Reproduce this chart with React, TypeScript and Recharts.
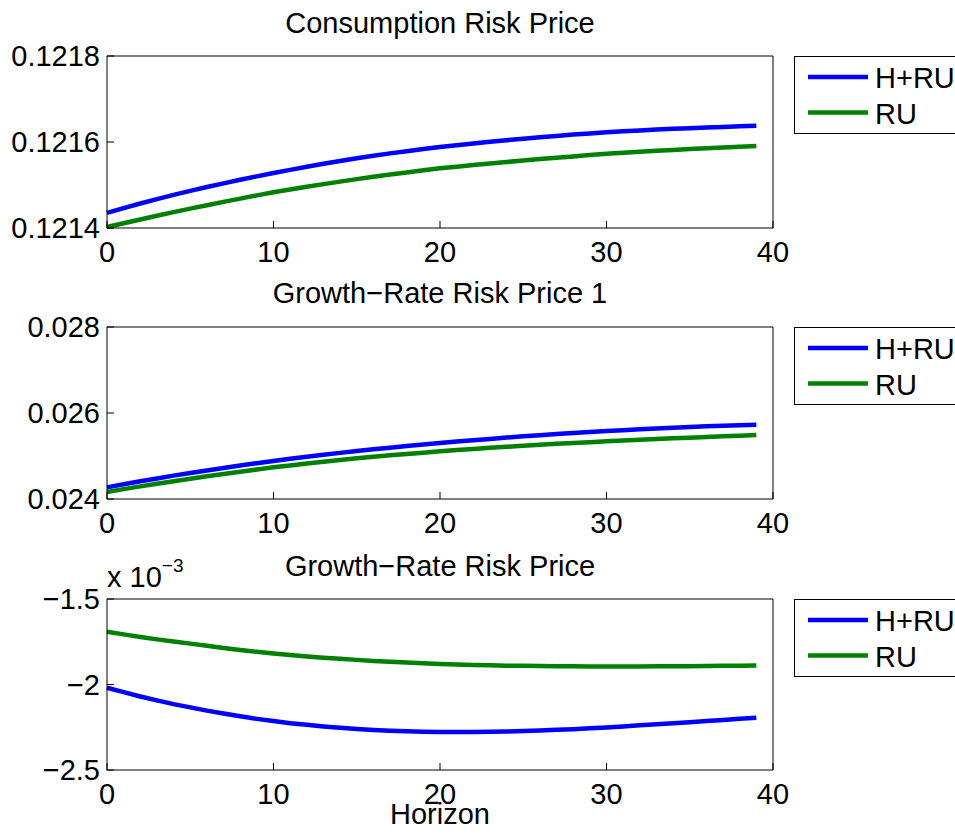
import React from 'react';
import { LineChart, Line, XAxis, YAxis } from 'recharts';

const horizons = [0,1,2,3,4,5,6,7,8,9,10,11,12,13,14,15,16,17,18,19,20,21,22,23,24,25,26,27,28,29,30,31,32,33,34,35,36,37,38,39];
const xTicks = [0, 10, 20, 30, 40];

const consHRU = [0.1214353,0.1214463,0.1214569,0.1214671,0.1214769,0.1214863,0.1214953,0.1215039,0.1215121,0.1215201,0.1215278,0.1215352,0.1215424,0.1215493,0.1215560,0.1215624,0.1215681,0.1215735,0.1215786,0.1215835,0.1215882,0.1215925,0.1215966,0.1216005,0.1216042,0.1216078,0.1216111,0.1216142,0.1216172,0.1216200,0.1216227,0.1216249,0.1216269,0.1216288,0.1216306,0.1216322,0.1216337,0.1216351,0.1216364,0.1216376];
const consRU = [0.1214024,0.1214112,0.1214199,0.1214284,0.1214368,0.1214450,0.1214530,0.1214608,0.1214684,0.1214758,0.1214830,0.1214896,0.1214959,0.1215020,0.1215079,0.1215137,0.1215191,0.1215243,0.1215293,0.1215341,0.1215388,0.1215427,0.1215464,0.1215500,0.1215535,0.1215569,0.1215602,0.1215634,0.1215665,0.1215695,0.1215725,0.1215749,0.1215772,0.1215794,0.1215815,0.1215835,0.1215854,0.1215872,0.1215889,0.1215906];
const consTicks = [0.1214, 0.1216, 0.1218];

const growth1HRU = [0.024271,0.024342,0.024411,0.024478,0.024543,0.024605,0.024665,0.024723,0.024779,0.024833,0.024884,0.024934,0.024982,0.025028,0.025073,0.025116,0.025156,0.025194,0.025231,0.025267,0.025302,0.025335,0.025367,0.025398,0.025428,0.025457,0.025484,0.025510,0.025535,0.025558,0.025581,0.025601,0.025620,0.025639,0.025657,0.025674,0.025689,0.025703,0.025716,0.025729];
const growth1RU = [0.024163,0.024229,0.024293,0.024355,0.024415,0.024473,0.024529,0.024583,0.024635,0.024686,0.024736,0.024781,0.024824,0.024866,0.024907,0.024946,0.024981,0.025015,0.025047,0.025078,0.025109,0.025137,0.025164,0.025190,0.025215,0.025240,0.025262,0.025283,0.025303,0.025322,0.025341,0.025359,0.025376,0.025393,0.025410,0.025426,0.025442,0.025458,0.025473,0.025488];
const growth1Ticks = [0.024, 0.026, 0.028];

const growth2HRU = [-0.002019,-0.002045,-0.002070,-0.002093,-0.002115,-0.002134,-0.002153,-0.002170,-0.002186,-0.002201,-0.002214,-0.002226,-0.002236,-0.002245,-0.002253,-0.002260,-0.002266,-0.002271,-0.002274,-0.002276,-0.002278,-0.002278,-0.002278,-0.002277,-0.002275,-0.002272,-0.002269,-0.002265,-0.002261,-0.002256,-0.002251,-0.002245,-0.002239,-0.002233,-0.002227,-0.002221,-0.002214,-0.002207,-0.002200,-0.002194];
const growth2RU = [-0.001691,-0.001707,-0.001722,-0.001736,-0.001749,-0.001761,-0.001774,-0.001786,-0.001798,-0.001809,-0.001819,-0.001828,-0.001836,-0.001843,-0.001850,-0.001856,-0.001862,-0.001867,-0.001872,-0.001876,-0.001880,-0.001883,-0.001886,-0.001888,-0.001890,-0.001891,-0.001892,-0.001893,-0.001894,-0.001895,-0.001895,-0.001895,-0.001895,-0.001894,-0.001894,-0.001893,-0.001892,-0.001891,-0.001890,-0.001889];
const growth2Ticks = [-0.0025, -0.002, -0.0015];

const titles = ['Consumption Risk Price', 'Growth\u2212Rate Risk Price 1', 'Growth\u2212Rate Risk Price'];
const seriesNames = ['H+RU', 'RU'];
const xLabel = 'Horizon';

const BLUE = '#0000ff';
const GREEN = '#008000';
const FONT = '"Liberation Sans", Arial, Helvetica, sans-serif';
const FS = 29;

const build = (a: number[], b: number[]) =>
  horizons.map((h, i) => ({ h, hru: a[i], ru: b[i] }));

const tickStyle = { fontSize: FS, fill: '#000', fontFamily: FONT };

type PanelProps = {
  top: number;
  height: number;
  mTop: number;
  mBottom: number;
  data: { h: number; hru: number; ru: number }[];
  yTicks: number[];
  fmt: (v: number) => string;
};

const Panel = ({ top, height, mTop, mBottom, data, yTicks, fmt }: PanelProps) => (
  <div style={{ position: 'absolute', left: 0, top, width: 955, height }}>
    <LineChart
      width={955}
      height={height}
      data={data}
      margin={{ top: mTop, bottom: mBottom, left: 47, right: 172 }}
    >
      <XAxis
        dataKey="h"
        type="number"
        domain={[0, 40]}
        ticks={xTicks}
        interval={0}
        tickSize={-7}
        tickMargin={20}
        height={40}
        axisLine={{ stroke: '#000', strokeWidth: 1 }}
        tickLine={{ stroke: '#000' }}
        tick={tickStyle}
      />
      <XAxis
        xAxisId="top"
        orientation="top"
        dataKey="h"
        type="number"
        domain={[0, 40]}
        ticks={xTicks}
        interval={0}
        tickSize={-7}
        height={10}
        tick={false}
        axisLine={{ stroke: '#000', strokeWidth: 1 }}
        tickLine={{ stroke: '#000' }}
      />
      <YAxis
        type="number"
        domain={[yTicks[0], yTicks[2]]}
        ticks={yTicks}
        interval={0}
        tickSize={-7}
        tickMargin={14}
        width={60}
        tickFormatter={fmt}
        axisLine={{ stroke: '#000', strokeWidth: 1 }}
        tickLine={{ stroke: '#000' }}
        tick={tickStyle}
      />
      <YAxis
        yAxisId="r"
        orientation="right"
        type="number"
        domain={[yTicks[0], yTicks[2]]}
        ticks={yTicks}
        interval={0}
        tickSize={-7}
        width={10}
        tick={false}
        axisLine={{ stroke: '#000', strokeWidth: 1 }}
        tickLine={{ stroke: '#000' }}
      />
      <Line type="linear" dataKey="hru" name={seriesNames[0]} stroke={BLUE} strokeWidth={4.5} dot={false} isAnimationActive={false} />
      <Line type="linear" dataKey="ru" name={seriesNames[1]} stroke={GREEN} strokeWidth={4.5} dot={false} isAnimationActive={false} />
    </LineChart>
  </div>
);

const LegendBox = ({ top }: { top: number }) => (
  <g>
    <rect x={794.5} y={top + 0.5} width={180} height={77} fill="#fff" stroke="#000" strokeWidth={1} />
    <line x1={808} x2={868} y1={top + 21} y2={top + 21} stroke={BLUE} strokeWidth={4.5} />
    <line x1={808} x2={868} y1={top + 56.5} y2={top + 56.5} stroke={GREEN} strokeWidth={4.5} />
    <text x={875} y={top + 31.5} fontSize={FS} fontFamily={FONT} fill="#000">{seriesNames[0]}</text>
    <text x={875} y={top + 67.5} fontSize={FS} fontFamily={FONT} fill="#000">{seriesNames[1]}</text>
  </g>
);

const fmtCons = (v: number) => v.toFixed(4);
const fmtG1 = (v: number) => v.toFixed(3);
const fmtG2 = (v: number) => {
  const s = String(Math.round(v * 10000) / 10);
  return s.replace('-', '\u2212');
};

export default function App() {
  return (
    <div style={{ position: 'absolute', left: 0, top: 0, width: 955, height: 837, overflow: 'hidden', background: '#fff' }}>
      <Panel top={0} height={280} mTop={46} mBottom={12} data={build(consHRU, consRU)} yTicks={consTicks} fmt={fmtCons} />
      <Panel top={270} height={280} mTop={47} mBottom={11} data={build(growth1HRU, growth1RU)} yTicks={growth1Ticks} fmt={fmtG1} />
      <Panel top={540} height={297} mTop={49} mBottom={27} data={build(growth2HRU, growth2RU)} yTicks={growth2Ticks} fmt={fmtG2} />
      <svg width={955} height={837} style={{ position: 'absolute', left: 0, top: 0, pointerEvents: 'none' }}>
        <text x={440} y={33} textAnchor="middle" fontSize={FS} fontFamily={FONT} fill="#000">{titles[0]}</text>
        <text x={440} y={303} textAnchor="middle" fontSize={FS} fontFamily={FONT} fill="#000">{titles[1]}</text>
        <text x={440} y={576} textAnchor="middle" fontSize={FS} fontFamily={FONT} fill="#000">{titles[2]}</text>
        <text x={107} y={587} fontSize={FS} fontFamily={FONT} fill="#000">
          x 10<tspan fontSize={19} dy={-15}>{'\u22123'}</tspan>
        </text>
        <text x={440} y={824} textAnchor="middle" fontSize={FS} fontFamily={FONT} fill="#000">{xLabel}</text>
        <LegendBox top={56} />
        <LegendBox top={327} />
        <LegendBox top={599} />
      </svg>
    </div>
  );
}
